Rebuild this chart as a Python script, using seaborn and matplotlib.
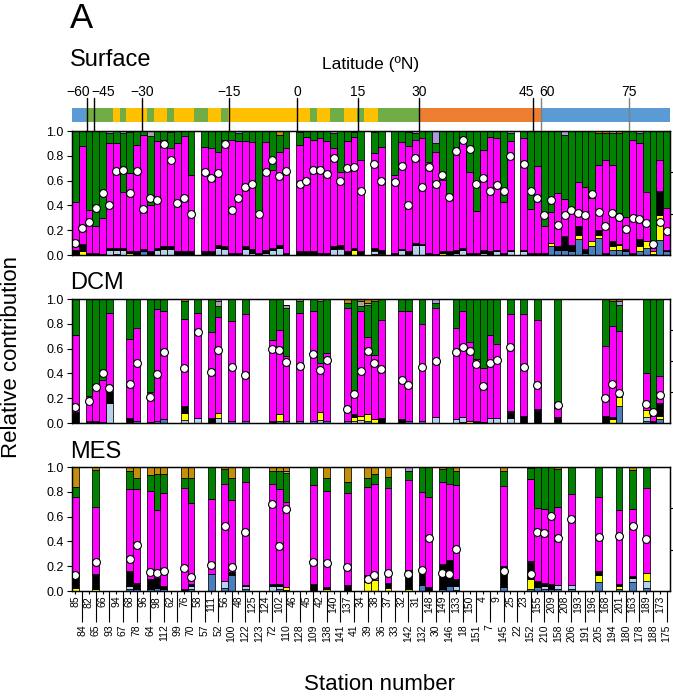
import numpy as np
import pandas as pd
import matplotlib
matplotlib.use("Agg")
import matplotlib.pyplot as plt
import seaborn as sns

sns.set_style("ticks")
plt.rcParams["font.family"] = ["Liberation Sans", "DejaVu Sans"]
plt.rcParams.update({"axes.edgecolor": "black", "xtick.color": "black",
                     "ytick.color": "black", "text.color": "black",
                     "axes.linewidth": 0.9})

# ---------------------------------------------------------------- stations
stations = [85, 84, 82, 65, 66, 93, 94, 67, 68, 78, 96, 64, 98, 112, 62, 99, 76, 70,
            58, 57, 111, 52, 56, 100, 48, 122, 125, 123, 124, 72, 102, 110, 46, 128,
            45, 109, 42, 138, 140, 141, 137, 41, 34, 39, 38, 36, 37, 33, 32, 142, 31,
            132, 148, 30, 149, 146, 133, 18, 150, 151, 4, 7, 9, 145, 25, 22, 23, 152,
            155, 210, 209, 158, 208, 206, 193, 191, 196, 205, 168, 194, 201, 180, 163,
            178, 189, 188, 173, 175]

biome_runs = [("Polar", 2), ("Coastal", 4), ("Trades", 1), ("Coastal", 1), ("Trades", 3),
              ("Coastal", 1), ("Trades", 2), ("Coastal", 1), ("Trades", 3), ("Coastal", 2),
              ("Trades", 2), ("Coastal", 1), ("Trades", 12), ("Coastal", 1), ("Trades", 2),
              ("Coastal", 2), ("Trades", 2), ("Coastal", 1), ("Trades", 2), ("Coastal", 6),
              ("Westerlies", 18), ("Polar", 19)]
biome_colors = {"Polar": "#5b9bd5", "Coastal": "#70ad47", "Trades": "#ffc000",
                "Westerlies": "#ed7d31"}

lat_values = [-60, -45, -30, -15, 0, 15, 30, 45, 60, 75]
lat_line_pos = [1.7, 2.74, 9.79, 22.6, 32.6, 41.56, 50.53, 67.4, 68.5, 81.4]
lat_label_pos = [0.38, 4.13, 9.79, 22.6, 32.6, 41.56, 50.53, 66.4, 69.4, 81.4]
lat_line_colors = ["black"] * 8 + ["#808080", "#808080"]

# ---------------------------------------------------------------- surface
surf_st = [85, 84, 82, 65, 66, 93, 94, 67, 68, 78,
           96, 64, 98, 112, 62, 99, 76, 70,
           57, 111, 52, 56, 100, 48, 122, 125, 123, 124, 72, 102, 110,
           128, 45, 109, 42, 138, 140, 141, 137, 41, 34,
           38, 36,
           33, 32, 142, 31, 132, 148, 30, 149, 146, 133, 18, 150, 151, 4, 7, 9, 145, 25,
           23, 152, 155, 210, 209, 158, 208, 206, 193, 191, 196, 205, 168, 194, 201, 180,
           163, 178, 189, 188, 173, 175]
surf_steel = [0, 0, 0, 0, 0, 0, .01, 0, 0, 0,
              .03, 0, 0, 0, 0, 0, 0, 0,
              0, 0, 0, 0, 0, 0, 0, 0, 0, 0, 0, 0, 0,
              0, 0, .01, 0, 0, 0, 0, 0, 0, 0,
              .01, 0,
              0, 0, 0, 0, 0, 0, 0, 0, 0, 0, 0, 0, 0, 0, 0, 0, 0, 0,
              0, 0, 0, 0, .07, .04, .04, .03, .127, .02, .07, .135, 0, .04, .04, .03,
              0, .035, .06, .01, .12, .03]
surf_light = [0, 0, 0, 0, 0, .04, .03, .04, 0, 0,
              0, 0, .04, .05, .05, 0, 0, 0,
              0, 0, .06, .05, 0, 0, .05, .02, 0, .02, .04, .06, 0,
              .01, 0, 0, 0, 0, .05, .05, 0, 0, 0,
              .02, .01,
              .01, .04, 0, .08, .08, .01, 0, 0, .01, .02, .04, 0, 0, .02, .01, .03, 0, .03,
              .03, 0, 0, 0, 0, 0, 0, 0, 0, 0, 0, 0, 0, 0, 0, 0,
              0, 0, 0, 0, 0, 0]
surf_yellow = [0, .03, 0, 0, 0, 0, 0, 0, .02, 0,
               0, .01, 0, 0, 0, 0, .01, .01,
               0, 0, 0, 0, 0, 0, 0, 0, 0, 0, 0, 0, 0,
               0, .01, 0, 0, 0, 0, .01, .01, .04, 0,
               .01, .01,
               0, 0, .01, 0, 0, 0, 0, .02, 0, 0, 0, 0, 0, 0, 0, 0, 0, 0,
               0, 0, 0, 0, .03, 0, 0, 0, .033, 0, .04, .027, 0, .03, .04, 0,
               0, .035, .05, .02, .20, 0]
surf_black = [.04, .06, .02, .02, .01, .02, .02, .02, .01, .03,
              .02, .02, .02, .02, .02, .03, .02, .02,
              .03, .03, .02, .02, .02, .02, .02, .03, .02, .02, .02, .02, .02,
              .02, .02, .02, .02, .02, .02, .02, .02, .02, .03,
              .02, .02,
              .01, .01, .02, .02, .01, .01, .01, .01, .02, .02, .02, .02, .02, .02, .02, .01, .02, .01,
              .01, .02, .02, .02, 0, .03, .11, .05, .07, .03, 0, .04, .02, .04, .01, .02,
              .02, .06, 0, 0, .20, .01]
surf_magenta = [.385, .79, .34, .21, .29, .84, .84, .45, .63, .86,
                .92, .37, .86, .86, .79, .87, .93, .615,
                .84, .83, .75, .86, .91, .90, .85, .86, .32, .87, .625, .75, .84,
                .86, .925, .90, .925, .90, .79, .59, .89, .89, .74,
                .76, .83,
                .625, .86, .85, .83, .85, .73, .82, .575, .42, .83, .895, .65, .335, .81, .925, .906, .405, .88,
                .90, .355, .70, .21, .25, .43, .30, .30, .36, .50, .347, .524, .746, .616, .246, .259,
                .907, .77, .40, .03, .246, .336]
surf_green = [.575, .12, .64, .77, .70, .08, .10, .47, .33, .11,
              .03, .56, .08, .07, .13, .10, .04, .355,
              .13, .14, .17, .07, .07, .06, .08, .09, .66, .09, .315, .14, .14,
              .10, .045, .07, .055, .08, .125, .33, .08, .04, .23,
              .17, .13,
              .355, .09, .11, .05, .06, .25, .07, .395, .55, .13, .045, .33, .645, .15, .045, .054, .575, .06,
              .06, .625, .28, .77, .65, .50, .52, .62, .41, .45, .543, .259, .219, .254, .644, .691,
              .073, .085, .49, .94, .234, .624]
surf_grey = [0, 0, 0, 0, 0, 0, 0, 0, .01, 0,
             0, .04, 0, 0, 0, 0, 0, 0,
             0, 0, 0, 0, 0, 0, 0, 0, 0, 0, 0, 0, 0,
             0, 0, 0, 0, 0, 0, 0, 0, 0, 0,
             0, 0,
             0, 0, .01, 0, 0, 0, 0, 0, 0, 0, 0, 0, 0, 0, 0, 0, 0, 0,
             0, 0, 0, 0, 0, 0, 0, 0, 0, 0, 0, 0, 0, 0, 0, 0,
             0, 0, 0, 0, 0, 0]
surf_lavender = [0, 0, 0, 0, 0, .02, 0, .02, 0, 0,
                 0, 0, 0, 0, 0, 0, 0, 0,
                 0, 0, 0, 0, 0, .02, 0, 0, 0, 0, 0, 0, 0,
                 0, 0, 0, 0, 0, .015, 0, 0, .01, 0,
                 0, 0,
                 0, 0, 0, .02, 0, 0, .10, 0, 0, 0, 0, 0, 0, 0, 0, 0, 0, .02,
                 0, 0, 0, 0, 0, 0, .03, 0, 0, 0, 0, 0, 0, .02, 0, 0,
                 0, .015, 0, 0, 0, 0]
surf_gold = [0, 0, 0, 0, 0, 0, 0, 0, 0, 0,
             0, 0, 0, 0, .01, 0, 0, 0,
             0, 0, 0, 0, 0, 0, 0, 0, 0, 0, 0, .03, 0,
             .01, 0, 0, 0, 0, 0, 0, 0, 0, 0,
             .01, 0,
             0, 0, 0, 0, 0, 0, 0, 0, 0, 0, 0, 0, 0, 0, 0, 0, 0, 0,
             0, 0, 0, 0, 0, 0, 0, 0, 0, 0, 0, .015, .015, 0, .02, 0,
             0, 0, 0, 0, 0, 0]
surf_dots = [.10, .215, .27, .38, .50, .40, .68, .685, .50, .68,
             .37, .46, .44, .895, .77, .42, .46, .33,
             .667, .62, .66, .895, .36, .46, .55, .57, .33, .667, .77, .64, .68,
             .57, .60, .685, .685, .65, .785, .60, .70, .71, .52,
             .73, .60,
             .59, .72, .40, .785, .545, .71, .57, .645, .47, .84, .93, .855, .57, .62, .52, .565, .52, .80,
             .73, .52, .46, .32, .44, .24, .32, .36, .34, .32, .49, .35, .234, .34, .31, .207,
             .296, .29, .26, .09, .27, .196]

# ---------------------------------------------------------------- DCM
dcm_st = [85, 82, 65, 66, 93, 68, 78, 64, 98, 112,
          76, 58, 111, 52, 100, 122, 72, 102, 110, 128,
          109, 42, 138, 137, 41, 34, 39, 38, 36, 32,
          142, 132, 30, 133, 18, 150, 151, 4, 7, 9,
          25, 23, 155, 158, 168, 194, 201, 189, 188, 173]
dcm_steel = [0, 0, 0, 0, 0, 0, .02, 0, .02, .03,
             0, 0, 0, 0, .02, .02, 0, .02, .02, .02,
             .02, 0, .02, .02, 0, 0, .02, 0, 0, 0,
             .02, .02, 0, 0, .01, 0, 0, 0, 0, 0,
             0, 0, 0, 0, 0, 0, .137, .02, .01, .03]
dcm_light = [0, 0, 0, 0, .16, 0, 0, 0, 0, 0,
             .025, .04, 0, .04, 0, 0, 0, 0, 0, 0,
             0, .025, 0, 0, .02, .025, 0, 0, 0, 0,
             0, 0, .05, .03, .04, 0, 0, 0, .04, .04,
             .04, 0, 0, 0, 0, 0, 0, .03, 0, 0]
dcm_yellow = [0, 0, 0, 0, 0, 0, 0, 0, 0, 0,
              .055, 0, 0, .04, 0, 0, 0, .05, 0, 0,
              0, .06, 0, 0, .03, .03, .05, .03, 0, .01,
              0, 0, 0, 0, 0, .02, 0, 0, 0, 0,
              0, 0, 0, 0, 0, .03, .073, .055, 0, .03]
dcm_black = [.09, .02, .02, .01, .09, .04, 0, .01, 0, 0,
             .055, 0, .04, 0, 0, 0, .02, 0, 0, 0,
             0, 0, 0, 0, .02, 0, 0, 0, .04, .02,
             0, 0, 0, 0, 0, 0, .02, .01, 0, 0,
             .06, .06, .11, .05, .06, .02, 0, 0, .01, .10]
dcm_magenta = [.62, .20, .26, .34, .64, .635, .75, .24, .90, .875,
               .70, .845, .695, .775, .805, .86, .65, .68, .524, .865,
               .88, .40, .545, .905, .18, .85, .62, .52, .79, .87,
               .88, .78, .875, .74, .855, .635, .50, .43, .67, .60,
               .78, .82, .72, .07, .56, .73, .535, .295, .04, .22]
dcm_green = [.29, .78, .72, .65, .11, .325, .23, .75, .08, .095,
             .15, .115, .265, .09, .175, .12, .33, .30, .381, .095,
             .10, .495, .435, .04, .75, .04, .26, .43, .17, .10,
             .10, .20, .04, .23, .095, .345, .48, .56, .29, .36,
             .12, .12, .17, .88, .38, .20, .205, .60, .94, .62]
dcm_grey = [0, 0, 0, 0, 0, 0, 0, 0, 0, 0,
            0, 0, 0, .04, 0, 0, 0, 0, .025, .02,
            0, .02, 0, 0, 0, .04, .02, 0, 0, 0,
            0, 0, 0, 0, 0, 0, 0, 0, 0, 0,
            0, 0, 0, 0, 0, 0, 0, 0, 0, 0]
dcm_lavender = [0, 0, 0, 0, 0, 0, 0, 0, 0, 0,
                0, 0, 0, .015, 0, 0, 0, 0, 0, 0,
                0, 0, 0, 0, 0, 0, 0, 0, 0, 0,
                0, 0, .035, 0, 0, 0, 0, 0, 0, 0,
                0, 0, 0, 0, 0, 0, .03, 0, 0, 0]
dcm_gold = [0, 0, 0, 0, 0, 0, 0, 0, 0, 0,
            .015, 0, 0, 0, 0, 0, 0, 0, 0, 0,
            0, 0, 0, .035, 0, .015, .03, .02, 0, 0,
            0, 0, 0, 0, 0, 0, 0, 0, 0, 0,
            0, 0, 0, 0, 0, .02, .02, 0, 0, 0]
dcm_dots = [.126, .18, .29, .405, .28, .315, .48, .21, .395, .575,
            .44, .735, .415, .59, .45, .39, .595, .585, .495, .46,
            .56, .43, .51, .11, .235, .42, .58, .485, .435, .345,
            .305, .455, .50, .57, .615, .58, .473, .30, .48, .505,
            .61, .455, .305, .145, .20, .315, .24, .153, .09, .225]

# ---------------------------------------------------------------- MES
mes_st = [85, 65, 68, 78, 64, 98, 112, 76, 70, 111,
          56, 100, 122, 72, 102, 110, 109, 138, 137, 39,
          38, 37, 142, 132, 148, 149, 146, 133, 145, 152,
          155, 210, 209, 158, 206, 205, 201, 163, 189]
mes_steel = [0, 0, .02, .02, .02, .027, .02, 0, .02, .137,
             .022, .13, .013, 0, .015, .01, 0, 0, 0, 0,
             0, 0, 0, .05, 0, .02, .04, .01, .03, .02,
             .03, .018, .02, .02, .02, .075, .02, .075, .022]
mes_light = [0, 0, .02, 0, 0, 0, 0, 0, .02, 0,
             .06, 0, .027, .04, .025, 0, 0, 0, 0, 0,
             0, 0, 0, 0, 0, 0, 0, .03, 0, 0,
             0, .02, 0, .03, .03, 0, 0, .03, .06]
mes_yellow = [.022, .02, 0, 0, 0, 0, 0, 0, 0, 0,
              0, 0, 0, 0, 0, .02, 0, .02, 0, .07,
              .09, .027, .02, 0, 0, 0, 0, 0, 0, .08,
              0, 0, 0, 0, 0, .054, .02, 0, .06]
mes_black = [.126, .12, .124, .047, .08, .075, .02, .02, .02, 0,
             0, .02, .01, .02, .02, 0, .055, .01, .05, .06,
             0, .035, .15, .125, .03, .20, .21, .06, .17, .145,
             .053, .03, .036, 0, 0, .035, .02, .015, 0]
mes_magenta = [.607, .54, .656, .753, .71, .551, .75, .81, .65, .603,
               .781, .584, .83, .803, .76, .69, .80, .78, .74, .71,
               .773, .766, .725, .625, .725, .66, .61, .755, .647, .655,
               .584, .592, .576, .63, .73, .596, .59, .54, .688]
mes_green = [.081, .295, .15, .09, .125, .29, .15, .08, .20, .26,
             .117, .176, .12, .102, .145, .23, .145, .10, .09, .07,
             .077, .089, .075, .20, .245, .10, .14, .115, .118, .09,
             .333, .34, .368, .30, .22, .24, .35, .315, .17]
mes_grey = [0, 0, 0, 0, 0, 0, 0, 0, 0, 0,
            0, 0, 0, 0, 0, .02, 0, 0, 0, 0,
            0, 0, 0, 0, 0, 0, 0, 0, 0, 0,
            0, 0, 0, 0, 0, 0, 0, 0, 0]
mes_lavender = [0, 0, 0, 0, 0, 0, 0, 0, 0, 0,
                0, 0, 0, 0, 0, 0, 0, 0, 0, 0,
                0, 0, .03, 0, 0, 0, 0, 0, 0, 0,
                0, 0, 0, 0, 0, 0, 0, 0, 0]
mes_gold = [.164, .025, .03, .09, .065, .057, .06, .09, .09, 0,
            .02, .09, 0, .035, .035, .03, 0, .09, .12, .09,
            .06, .083, 0, 0, 0, .02, 0, .03, .035, .01,
            0, 0, 0, .02, 0, 0, 0, .025, 0]
mes_dots = [.126, .237, .255, .37, .156, .148, .164, .183, .11, .21,
            .527, .196, .478, .70, .363, .66, .237, .228, .196, .10,
            .13, .142, .134, .17, .425, .142, .134, .336, .164, .137,
            .478, .47, .605, .425, .578, .433, .444, .524, .417]

comp_order = ["steel", "light", "yellow", "black", "magenta", "green",
              "grey", "lavender", "gold"]
comp_colors = {"steel": "#4a7ebf", "light": "#b7d0ec", "yellow": "#ffff00",
               "black": "#000000", "magenta": "#ff00ff", "green": "#008200",
               "grey": "#a6a6a6", "lavender": "#ab9bd9", "gold": "#c38f0c"}

labels = [str(s) for s in stations]
n = len(stations)


def stacked_panel(ax, present, parts, dots, twin_max):
    table = pd.DataFrame(parts, index=present).reindex(stations).fillna(0.0)
    base = np.zeros(n)
    for name in comp_order:
        h = table[name].to_numpy()
        sns.barplot(x=labels, y=h, order=labels, color=comp_colors[name],
                    saturation=1, width=1.0, edgecolor="black", linewidth=0.55,
                    bottom=base, errorbar=None, ax=ax)
        base = base + h
    pos = [stations.index(s) for s in present]
    sns.scatterplot(x=pos, y=dots, s=32, color="white", edgecolor="black",
                    linewidth=0.8, zorder=5, legend=False, ax=ax)
    ax.set_xlim(-0.5, n - 0.5)
    ax.set_ylim(0, 1)
    ax.set_yticks(np.arange(0, 1.01, 0.2))
    ax.set_yticklabels([f"{v:.1f}" for v in np.arange(0, 1.01, 0.2)])
    ax.tick_params(axis="y", direction="out", length=3.5, width=0.8,
                   labelsize=9, pad=2.5)
    ax.set_xlabel("")
    ax.set_ylabel("")
    twin = ax.twinx()
    twin.set_ylim(0, twin_max)
    twin.set_yticks(range(1, twin_max))
    twin.tick_params(axis="y", direction="out", length=3.5, width=0.8,
                     labelright=False)
    return ax


fig = plt.figure(figsize=(6.73, 6.99), dpi=100)
L, W = 72 / 673, 598 / 673
H = 124 / 699
ax_s = fig.add_axes([L, 1 - 255 / 699, W, H])
ax_d = fig.add_axes([L, 1 - 423 / 699, W, H])
ax_m = fig.add_axes([L, 1 - 591 / 699, W, H])
ax_lat = fig.add_axes([L, 1 - 122 / 699, W, 14 / 699])

surf_parts = {"steel": surf_steel, "light": surf_light, "yellow": surf_yellow,
              "black": surf_black, "magenta": surf_magenta, "green": surf_green,
              "grey": surf_grey, "lavender": surf_lavender, "gold": surf_gold}
dcm_parts = {"steel": dcm_steel, "light": dcm_light, "yellow": dcm_yellow,
             "black": dcm_black, "magenta": dcm_magenta, "green": dcm_green,
             "grey": dcm_grey, "lavender": dcm_lavender, "gold": dcm_gold}
mes_parts = {"steel": mes_steel, "light": mes_light, "yellow": mes_yellow,
             "black": mes_black, "magenta": mes_magenta, "green": mes_green,
             "grey": mes_grey, "lavender": mes_lavender, "gold": mes_gold}

stacked_panel(ax_s, surf_st, surf_parts, surf_dots, 3)
stacked_panel(ax_d, dcm_st, dcm_parts, dcm_dots, 4)
stacked_panel(ax_m, mes_st, mes_parts, mes_dots, 3)

for ax in (ax_s, ax_d):
    ax.tick_params(axis="x", which="both", bottom=False, labelbottom=False)

# two staggered rows of station labels under the bottom panel
ax_m.set_xticks(range(0, n, 2), labels=labels[0::2])
ax_m.set_xticks(range(1, n, 2), labels=labels[1::2], minor=True)
ax_m.tick_params(axis="x", which="major", length=2, width=0.8, pad=1.5,
                 labelrotation=90, labelsize=7.5)
ax_m.tick_params(axis="x", which="minor", length=22, width=0.8, pad=2,
                 labelrotation=90, labelsize=7.5)

# latitude strip
biomes = [b for b, k in biome_runs for _ in range(k)]
sns.barplot(x=labels, y=np.ones(n), hue=biomes, order=labels, palette=biome_colors,
            saturation=1, width=1.0, linewidth=0, dodge=False, legend=False,
            errorbar=None, ax=ax_lat)
ax_lat.set_xlim(-0.5, n - 0.5)
ax_lat.set_ylim(0, 1)
ax_lat.set_axis_off()
for p, c in zip(lat_line_pos, lat_line_colors):
    ax_lat.plot([p, p], [-0.64, 1.71], color=c, lw=1.0, clip_on=False, zorder=6)
for p, v in zip(lat_label_pos, lat_values):
    txt = f"\u2212{abs(v)}" if v < 0 else f"{v}"
    ax_lat.text(p, 2.15, txt, ha="center", va="center", fontsize=10)

fig.text(70 / 673, 1 - 18 / 699, "A", fontsize=25, ha="left", va="center")
fig.text(70 / 673, 1 - 60 / 699, "Surface", fontsize=17, ha="left", va="center")
fig.text(371 / 673, 1 - 64 / 699, "Latitude (ºN)", fontsize=12.5, ha="center",
         va="center")
fig.text(70 / 673, 1 - 283 / 699, "DCM", fontsize=17, ha="left", va="center")
fig.text(70 / 673, 1 - 452 / 699, "MES", fontsize=17, ha="left", va="center")
fig.text(12 / 673, 1 - 357 / 699, "Relative contribution", rotation=90, fontsize=16,
         ha="center", va="center")
fig.text(379 / 673, 1 - 685 / 699, "Station number", fontsize=16, ha="center",
         va="center")

fig.savefig("out.png", dpi=100)
